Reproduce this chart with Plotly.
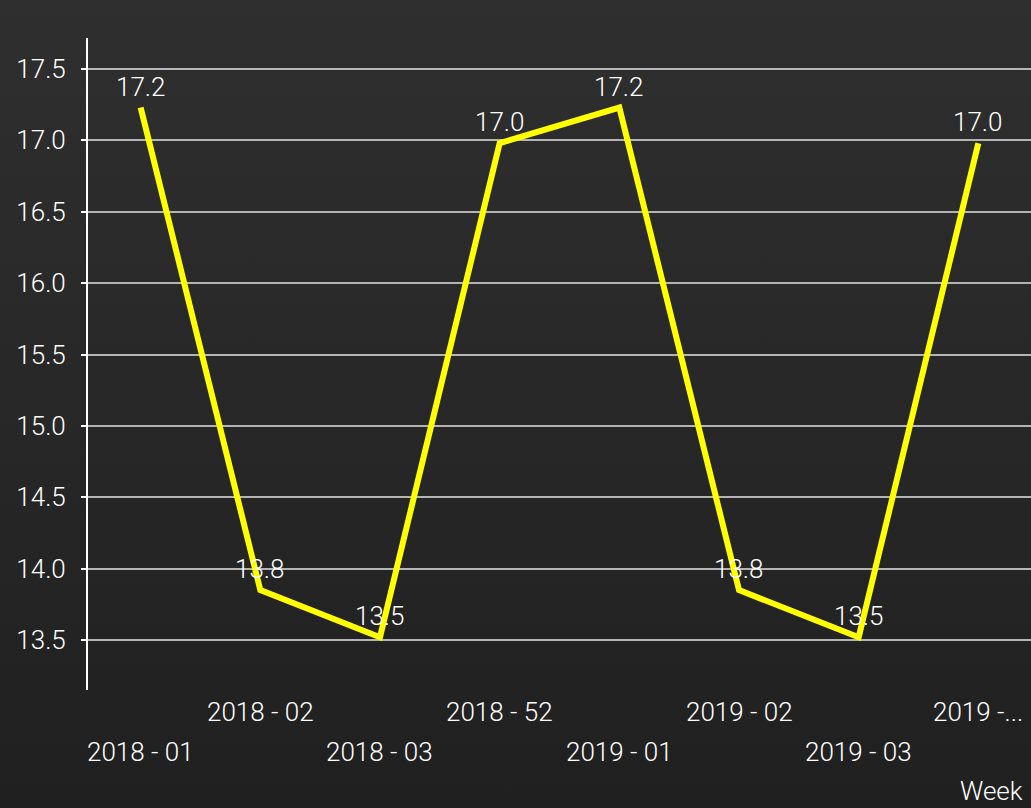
import plotly.graph_objects as go
import base64

weeks = ["2018 - 01", "2018 - 02", "2018 - 03", "2018 - 52", "2019 - 01", "2019 - 02", "2019 - 03", "2019 - 04"]
tick_labels = ["2018 - 01", "2018 - 02", "2018 - 03", "2018 - 52", "2019 - 01", "2019 - 02", "2019 - 03", "2019 -..."]
values = [17.23, 13.85, 13.52, 16.98, 17.23, 13.85, 13.52, 16.98]
value_labels = ["17.2", "13.8", "13.5", "17.0", "17.2", "13.8", "13.5", "17.0"]
y_ticks = [13.5, 14.0, 14.5, 15.0, 15.5, 16.0, 16.5, 17.0, 17.5]

FONT = "Roboto"
FS = 26
FW = 300
svg = ('<svg xmlns="http://www.w3.org/2000/svg" width="1031" height="808">'
       '<defs><linearGradient id="g" x1="0" y1="0" x2="0" y2="1">'
       '<stop offset="0" stop-color="#2f2f2f"/><stop offset="1" stop-color="#202020"/>'
       '</linearGradient></defs><rect width="1031" height="808" fill="url(#g)"/></svg>')
bg = "data:image/svg+xml;base64," + base64.b64encode(svg.encode()).decode()

L, R, T, B = 88, 0, 38, 118
W, H = 1031, 808
PH = H - T - B

fig = go.Figure()
fig.add_trace(go.Scatter(
    x=list(range(len(weeks))), y=values, mode="lines",
    line=dict(color="#ffff00", width=6), hoverinfo="skip",
))

annotations = []
for i, (v, lab) in enumerate(zip(values, value_labels)):
    annotations.append(dict(
        x=i, xref="x", y=v, yref="y", yanchor="middle", xanchor="center",
        yshift=21, text=lab, showarrow=False,
        font=dict(family=FONT, size=FS, color="#ffffff", weight=FW),
    ))
for i, lab in enumerate(tick_labels):
    annotations.append(dict(
        x=i, xref="x", y=(-22 if i % 2 else -62) / PH, yref="paper",
        yanchor="middle", xanchor="center", text=lab, showarrow=False,
        font=dict(family=FONT, size=FS, color="#ffffff", weight=FW),
    ))
annotations.append(dict(x=1, xref="paper", y=-101 / PH, yref="paper",
                        xanchor="right", yanchor="middle", text="Week", showarrow=False,
                        xshift=-6, font=dict(family=FONT, size=FS, color="#ffffff", weight=FW)))

fig.update_layout(
    width=W, height=H,
    margin=dict(l=L, r=R, t=T, b=B),
    paper_bgcolor="#282828", plot_bgcolor="rgba(0,0,0,0)",
    showlegend=False,
    images=[dict(source=bg, xref="paper", yref="paper",
                 x=-L / (W - L - R), y=1 + T / PH,
                 sizex=W / (W - L - R), sizey=H / PH,
                 xanchor="left", yanchor="top", sizing="stretch", layer="below")],
    annotations=annotations,
    xaxis=dict(range=[-0.44, 7.44], showticklabels=False, showgrid=False,
               zeroline=False, showline=False, ticks=""),
    yaxis=dict(range=[13.15, 17.717], tickvals=y_ticks,
               ticktext=[f"{v:.1f}" for v in y_ticks],
               showgrid=True, gridcolor="#b4b4b4", gridwidth=2,
               showline=True, linecolor="#ffffff", linewidth=2,
               ticks="outside", ticklen=5, tickcolor="#ffffff", tickwidth=2,
               zeroline=False, ticklabelstandoff=10,
               tickfont=dict(family=FONT, size=FS, color="#ffffff", weight=FW)),
)
fig.write_html("out.html", config={"displayModeBar": False},
               post_script="document.body.style.margin='0';document.body.style.overflow='hidden';")
